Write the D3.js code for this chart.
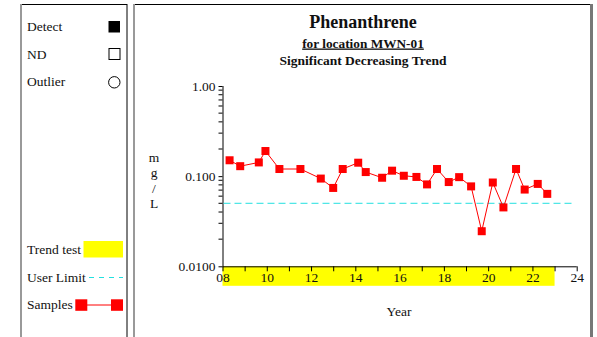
<!DOCTYPE html>
<html>
<head>
<meta charset="utf-8">
<script src="https://cdn.jsdelivr.net/npm/d3@7"></script>
<style>
  body { margin: 0; background: #fff; }
</style>
</head>
<body>
<div id="plot"></div>
<script>
// sample dates (year of 2000s, decimal) and concentrations in mg/L
var years = [8.32, 8.80, 9.64, 9.94, 10.57, 11.52, 12.44, 13.00, 13.43, 14.13, 14.47, 15.21, 15.66,
  16.19, 16.76, 17.24, 17.69, 18.22, 18.69, 19.23, 19.71, 20.21, 20.69, 21.26, 21.65, 22.24, 22.67]
var values = [0.150, 0.129, 0.142, 0.190, 0.120, 0.120, 0.094, 0.074, 0.120, 0.141, 0.111, 0.096, 0.115,
  0.101, 0.098, 0.081, 0.120, 0.086, 0.0975, 0.077, 0.0245, 0.085, 0.045, 0.120, 0.071, 0.082, 0.0636]
var userLimit = 0.05
var trendRange = [8, 23]
var xTicks = [8, 10, 12, 14, 16, 18, 20, 22, 24]
var yTicks = [1, 0.1, 0.01]
var yTickLabels = ["1.00", "0.100", "0.0100"]
var legendTop = ["Detect", "ND", "Outlier"]
var legendBottom = ["Trend test", "User Limit", "Samples"]

var W = 597, H = 337
var serif = "'Liberation Serif', 'Times New Roman', serif"
var svg = d3.select("#plot").append("svg")
  .attr("width", W)
  .attr("height", H)

// panel boxes
function box(x0, x1, rightColor) {
  svg.append("line").attr("x1", x0).attr("x2", x1).attr("y1", 4.5).attr("y2", 4.5).attr("stroke", "#000")
  svg.append("line").attr("x1", x0).attr("x2", x0).attr("y1", 4).attr("y2", H + 2)
    .attr("stroke", "#999").attr("stroke-width", 2)
  svg.append("line").attr("x1", x1).attr("x2", x1).attr("y1", 4).attr("y2", H + 2)
    .attr("stroke", rightColor).attr("stroke-width", rightColor == "#000" ? 1 : 3)
}
box(21, 127, "#000")
box(134, 591.5, "#777")

// legend panel
var lg = svg.append("g")
lg.selectAll(".lt").data(legendTop).enter().append("text")
  .attr("x", 27).attr("y", (d, i) => 31 + i * 27.7)
  .style("font-size", "13.5px").text(d => d)
lg.append("rect").attr("x", 108.5).attr("y", 21).attr("width", 11.5).attr("height", 11.5).attr("fill", "#000")
lg.append("rect").attr("x", 109).attr("y", 48.5).attr("width", 11).attr("height", 11)
  .attr("fill", "none").attr("stroke", "#000")
lg.append("circle").attr("cx", 114.3).attr("cy", 82.3).attr("r", 5.7).attr("fill", "none").attr("stroke", "#000")

lg.selectAll(".lb").data(legendBottom).enter().append("text")
  .attr("x", 27).attr("y", (d, i) => 254 + i * 27.7)
  .style("font-size", "13.5px").text(d => d)
lg.append("rect").attr("x", 83.5).attr("y", 241).attr("width", 39.5).attr("height", 16.5).attr("fill", "#ffff00")
lg.append("line").attr("x1", 89).attr("x2", 123).attr("y1", 277.5).attr("y2", 277.5)
  .attr("stroke", "#22e0e0").attr("stroke-dasharray", "5,5")
lg.append("line").attr("x1", 81).attr("x2", 117).attr("y1", 305).attr("y2", 305).attr("stroke", "#ff0000")
lg.append("rect").attr("x", 75.3).attr("y", 299.3).attr("width", 12).attr("height", 11.5).attr("fill", "#ff0000")
lg.append("rect").attr("x", 111).attr("y", 299.3).attr("width", 12).attr("height", 11.5).attr("fill", "#ff0000")

// titles
svg.append("text").attr("x", 363).attr("y", 28).attr("text-anchor", "middle")
  .style("font-size", "18px").style("font-weight", "bold").text("Phenanthrene")
svg.append("text").attr("x", 363).attr("y", 47.5).attr("text-anchor", "middle")
  .style("font-size", "13.3px").style("font-weight", "bold").style("text-decoration", "underline")
  .text("for location MWN-01")
svg.append("text").attr("x", 363).attr("y", 65).attr("text-anchor", "middle")
  .style("font-size", "13.5px").style("font-weight", "bold").text("Significant Decreasing Trend")

// plot area
var x0 = 222.5, x1 = 576.7, yTop = 86, yBot = 266.3
var xScale = d3.scaleLinear().domain([8, 24]).range([x0, x1])
var yScale = d3.scaleLog().domain([0.01, 1]).range([yBot, yTop])

// trend test band
svg.append("rect")
  .attr("x", xScale(trendRange[0])).attr("y", yBot)
  .attr("width", xScale(trendRange[1]) - xScale(trendRange[0])).attr("height", 19.5)
  .attr("fill", "#ffff00")

// x axis
var xAxis = svg.append("g").attr("transform", "translate(0," + yBot + ")")
  .call(d3.axisBottom(xScale).tickValues(d3.range(8, 25, 1))
    .tickSize(5).tickPadding(1)
    .tickFormat(d => xTicks.includes(d) ? d3.format("02d")(d) : ""))
xAxis.select(".domain").attr("d", "M" + x0 + ",0.5H" + x1)
xAxis.selectAll("text").style("font-size", "13.5px")

// y axis with minor ticks
var minor = []
for (var e = -2; e < 0; e++) for (var k = 2; k <= 9; k++) minor.push(k * Math.pow(10, e))
var yAxis = svg.append("g").attr("transform", "translate(" + x0 + ",0)")
  .call(d3.axisLeft(yScale).tickValues(yTicks).tickSize(4).tickPadding(3)
    .tickFormat((d, i) => yTickLabels[i]))
yAxis.select(".domain").attr("d", "M0.5," + yTop + "V" + yBot)
yAxis.selectAll("text").style("font-size", "13.5px")
yAxis.selectAll(".minor").data(minor).enter().append("line")
  .attr("x1", -4).attr("x2", 0).attr("y1", d => yScale(d)).attr("y2", d => yScale(d))
  .attr("stroke", "#000")

// y label (stacked)
svg.selectAll(".ylab").data(["m", "g", "/", "L"]).enter().append("text")
  .attr("x", 154).attr("y", (d, i) => 162 + i * 15.3).attr("text-anchor", "middle")
  .style("font-size", "13.5px").text(d => d)

svg.append("text").attr("x", 399).attr("y", 316).attr("text-anchor", "middle")
  .style("font-size", "13.5px").text("Year")

// user limit
svg.append("line")
  .attr("x1", x0 + 1).attr("x2", 575)
  .attr("y1", yScale(userLimit)).attr("y2", yScale(userLimit))
  .attr("stroke", "#22e0e0").attr("stroke-dasharray", "7,4")

// samples
var line = d3.line()
  .x((d, i) => xScale(years[i]))
  .y(d => yScale(d))
svg.append("path").datum(values)
  .attr("d", line).attr("fill", "none").attr("stroke", "#ff0000").attr("stroke-width", 1)
svg.selectAll(".dot").data(values).enter().append("rect")
  .attr("class", "dot")
  .attr("x", (d, i) => xScale(years[i]) - 4)
  .attr("y", d => yScale(d) - 4)
  .attr("width", 8).attr("height", 8)
  .attr("fill", "#ff0000")

svg.selectAll("g").attr("font-family", null)
svg.selectAll("text").style("font-family", serif).attr("fill", "#111")
</script>
</body>
</html>
